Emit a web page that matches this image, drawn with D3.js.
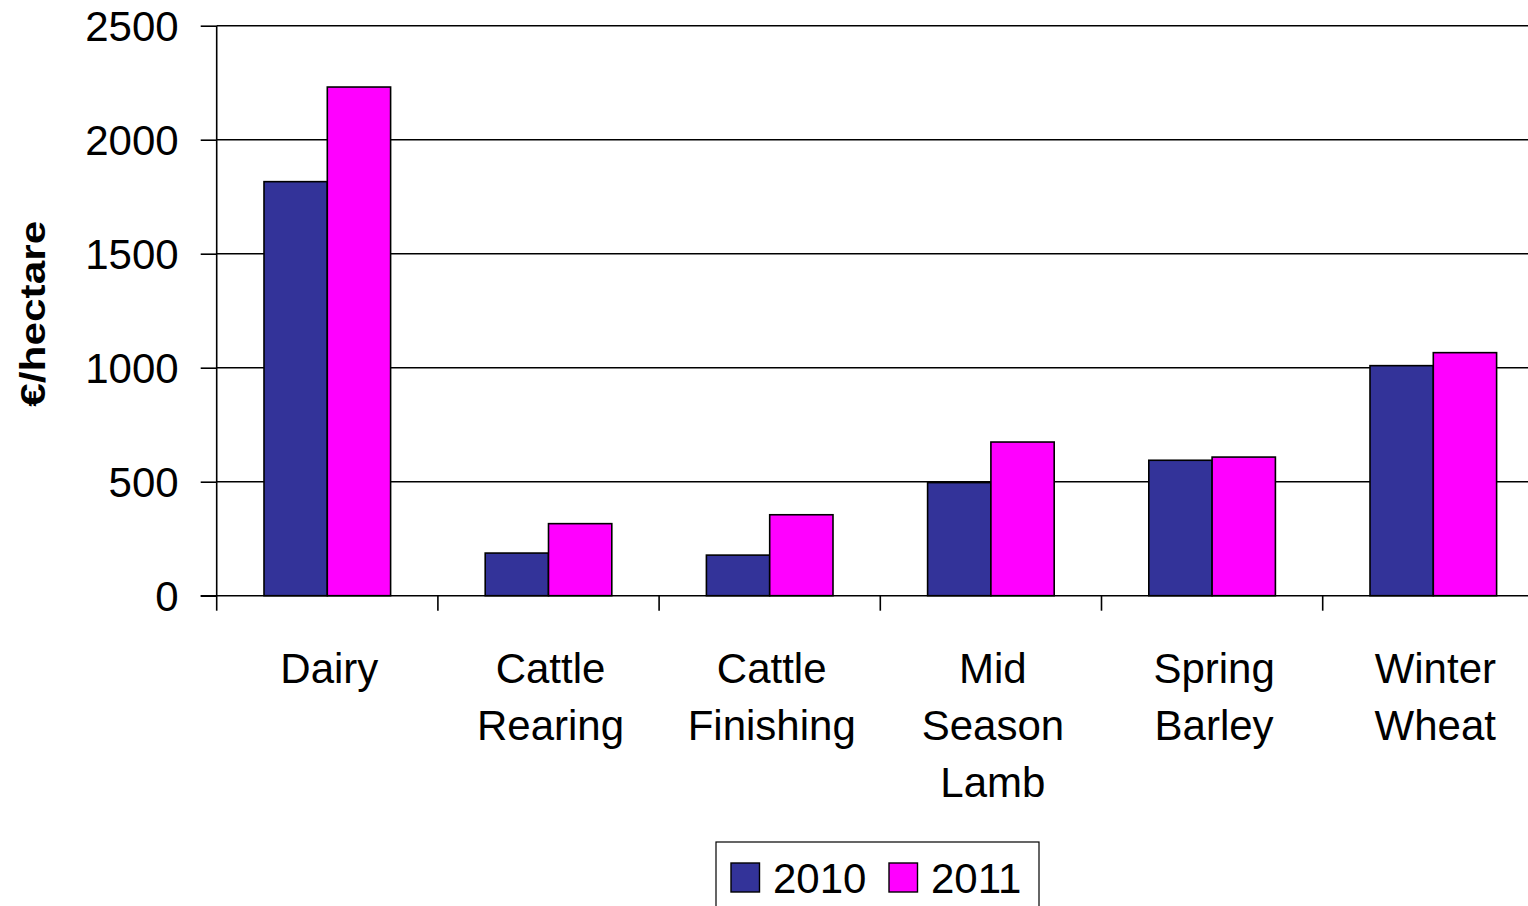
<!DOCTYPE html>
<html>
<head>
<meta charset="utf-8">
<script src="https://cdn.jsdelivr.net/npm/d3@7"></script>
<style>
html,body{margin:0;padding:0;background:#fff;overflow:hidden;}
svg{display:block;}
text{font-family:"Liberation Sans",Arial,sans-serif;fill:#000;}
</style>
</head>
<body>
<svg id="chart" width="1528" height="906"></svg>
<script>
const categories = [["Dairy"],["Cattle","Rearing"],["Cattle","Finishing"],["Mid","Season","Lamb"],["Spring","Barley"],["Winter","Wheat"]];
const seriesNames = ["2010","2011"];
const values2010 = [1816, 187, 178, 496, 594, 1009];
const values2011 = [2231, 316, 355, 674, 608, 1066];
const yTicks = [0, 500, 1000, 1500, 2000, 2500];
const colors = ["#333399", "#FF00FF"];

(function () {
const svg = d3.select("#chart");
const plotLeft = 216.7, plotTop = 25.7, plotBottom = 595.7, bandW = 221.2;
const catKeys = categories.map(c => c.join(" "));
const x0 = d3.scaleBand().domain(catKeys).range([plotLeft, plotLeft + bandW * catKeys.length]).paddingInner(0).paddingOuter(0);
const x1 = d3.scaleBand().domain(seriesNames).range([47.3, 47.3 + 126.6]).padding(0);
const y = d3.scaleLinear().domain([0, 2500]).range([plotBottom, plotTop]);

// gridlines
svg.append("g").selectAll("line").data(yTicks.filter(d => d > 0)).join("line")
  .attr("x1", plotLeft).attr("x2", 1528)
  .attr("y1", d => y(d)).attr("y2", d => y(d))
  .attr("stroke", "#000").attr("stroke-width", 1.6);

// bars
const data = catKeys.map((k, i) => ({ key: k, vals: [values2010[i], values2011[i]] }));
const g = svg.append("g").selectAll("g").data(data).join("g")
  .attr("transform", d => `translate(${x0(d.key)},0)`);
g.selectAll("rect").data(d => d.vals.map((v, j) => ({ s: seriesNames[j], v, j }))).join("rect")
  .attr("x", d => x1(d.s)).attr("width", x1.bandwidth())
  .attr("y", d => y(d.v)).attr("height", d => y(0) - y(d.v))
  .attr("fill", d => colors[d.j]).attr("stroke", "#000").attr("stroke-width", 1.6);

// y axis
const yAxis = d3.axisLeft(y).tickValues(yTicks).tickSize(16).tickPadding(22).tickFormat(d3.format("d"));
const ya = svg.append("g").attr("transform", `translate(${plotLeft},0)`).call(yAxis);
ya.select(".domain").attr("stroke", "#000").attr("stroke-width", 1.6).attr("d", `M0,${plotTop}V${plotBottom}`);
ya.selectAll(".tick line").attr("stroke", "#000").attr("stroke-width", 1.6);
ya.selectAll(".tick text").attr("font-size", 42).attr("font-family", "Liberation Sans, Arial, sans-serif").attr("fill", "#000").attr("dy", "0.36em");

// x axis
const xa = svg.append("g").attr("transform", `translate(0,${plotBottom})`);
xa.append("line").attr("x1", plotLeft - 16).attr("x2", 1528).attr("y1", 0).attr("y2", 0).attr("stroke", "#000").attr("stroke-width", 1.6);
const bounds = d3.range(catKeys.length + 1).map(i => plotLeft + i * bandW);
xa.selectAll("line.tk").data(bounds).join("line").attr("class", "tk")
  .attr("x1", d => d).attr("x2", d => d).attr("y1", 0).attr("y2", 15)
  .attr("stroke", "#000").attr("stroke-width", 1.6);
const labels = xa.selectAll("text.cat").data(categories).join("text").attr("class", "cat")
  .attr("text-anchor", "middle").attr("font-size", 42)
  .attr("transform", (d, i) => `translate(${x0(catKeys[i]) + bandW / 2 + 2},${683.3 - plotBottom})`);
labels.selectAll("tspan").data(d => d).join("tspan")
  .attr("x", 0).attr("y", (d, i) => i * 57).text(d => d);

// y title
svg.append("text").attr("transform", "translate(45,313.7) rotate(-90)")
  .attr("text-anchor", "middle").attr("font-size", 35).attr("font-weight", "bold")
  .attr("textLength", 186).attr("lengthAdjust", "spacingAndGlyphs")
  .text("€/hectare");

// legend
const lg = svg.append("g");
lg.append("rect").attr("x", 716).attr("y", 842).attr("width", 323).attr("height", 90)
  .attr("fill", "#fff").attr("stroke", "#000").attr("stroke-width", 1.2);
const legX = [731, 889];
const items = lg.selectAll("g").data(seriesNames).join("g")
  .attr("transform", (d, i) => `translate(${legX[i]},863)`);
items.append("rect").attr("width", 28.5).attr("height", 29)
  .attr("fill", (d, i) => colors[i]).attr("stroke", "#000").attr("stroke-width", 1.4);
items.append("text").attr("x", 42).attr("y", 30).attr("font-size", 42).text(d => d);
})();
</script>
</body>
</html>
